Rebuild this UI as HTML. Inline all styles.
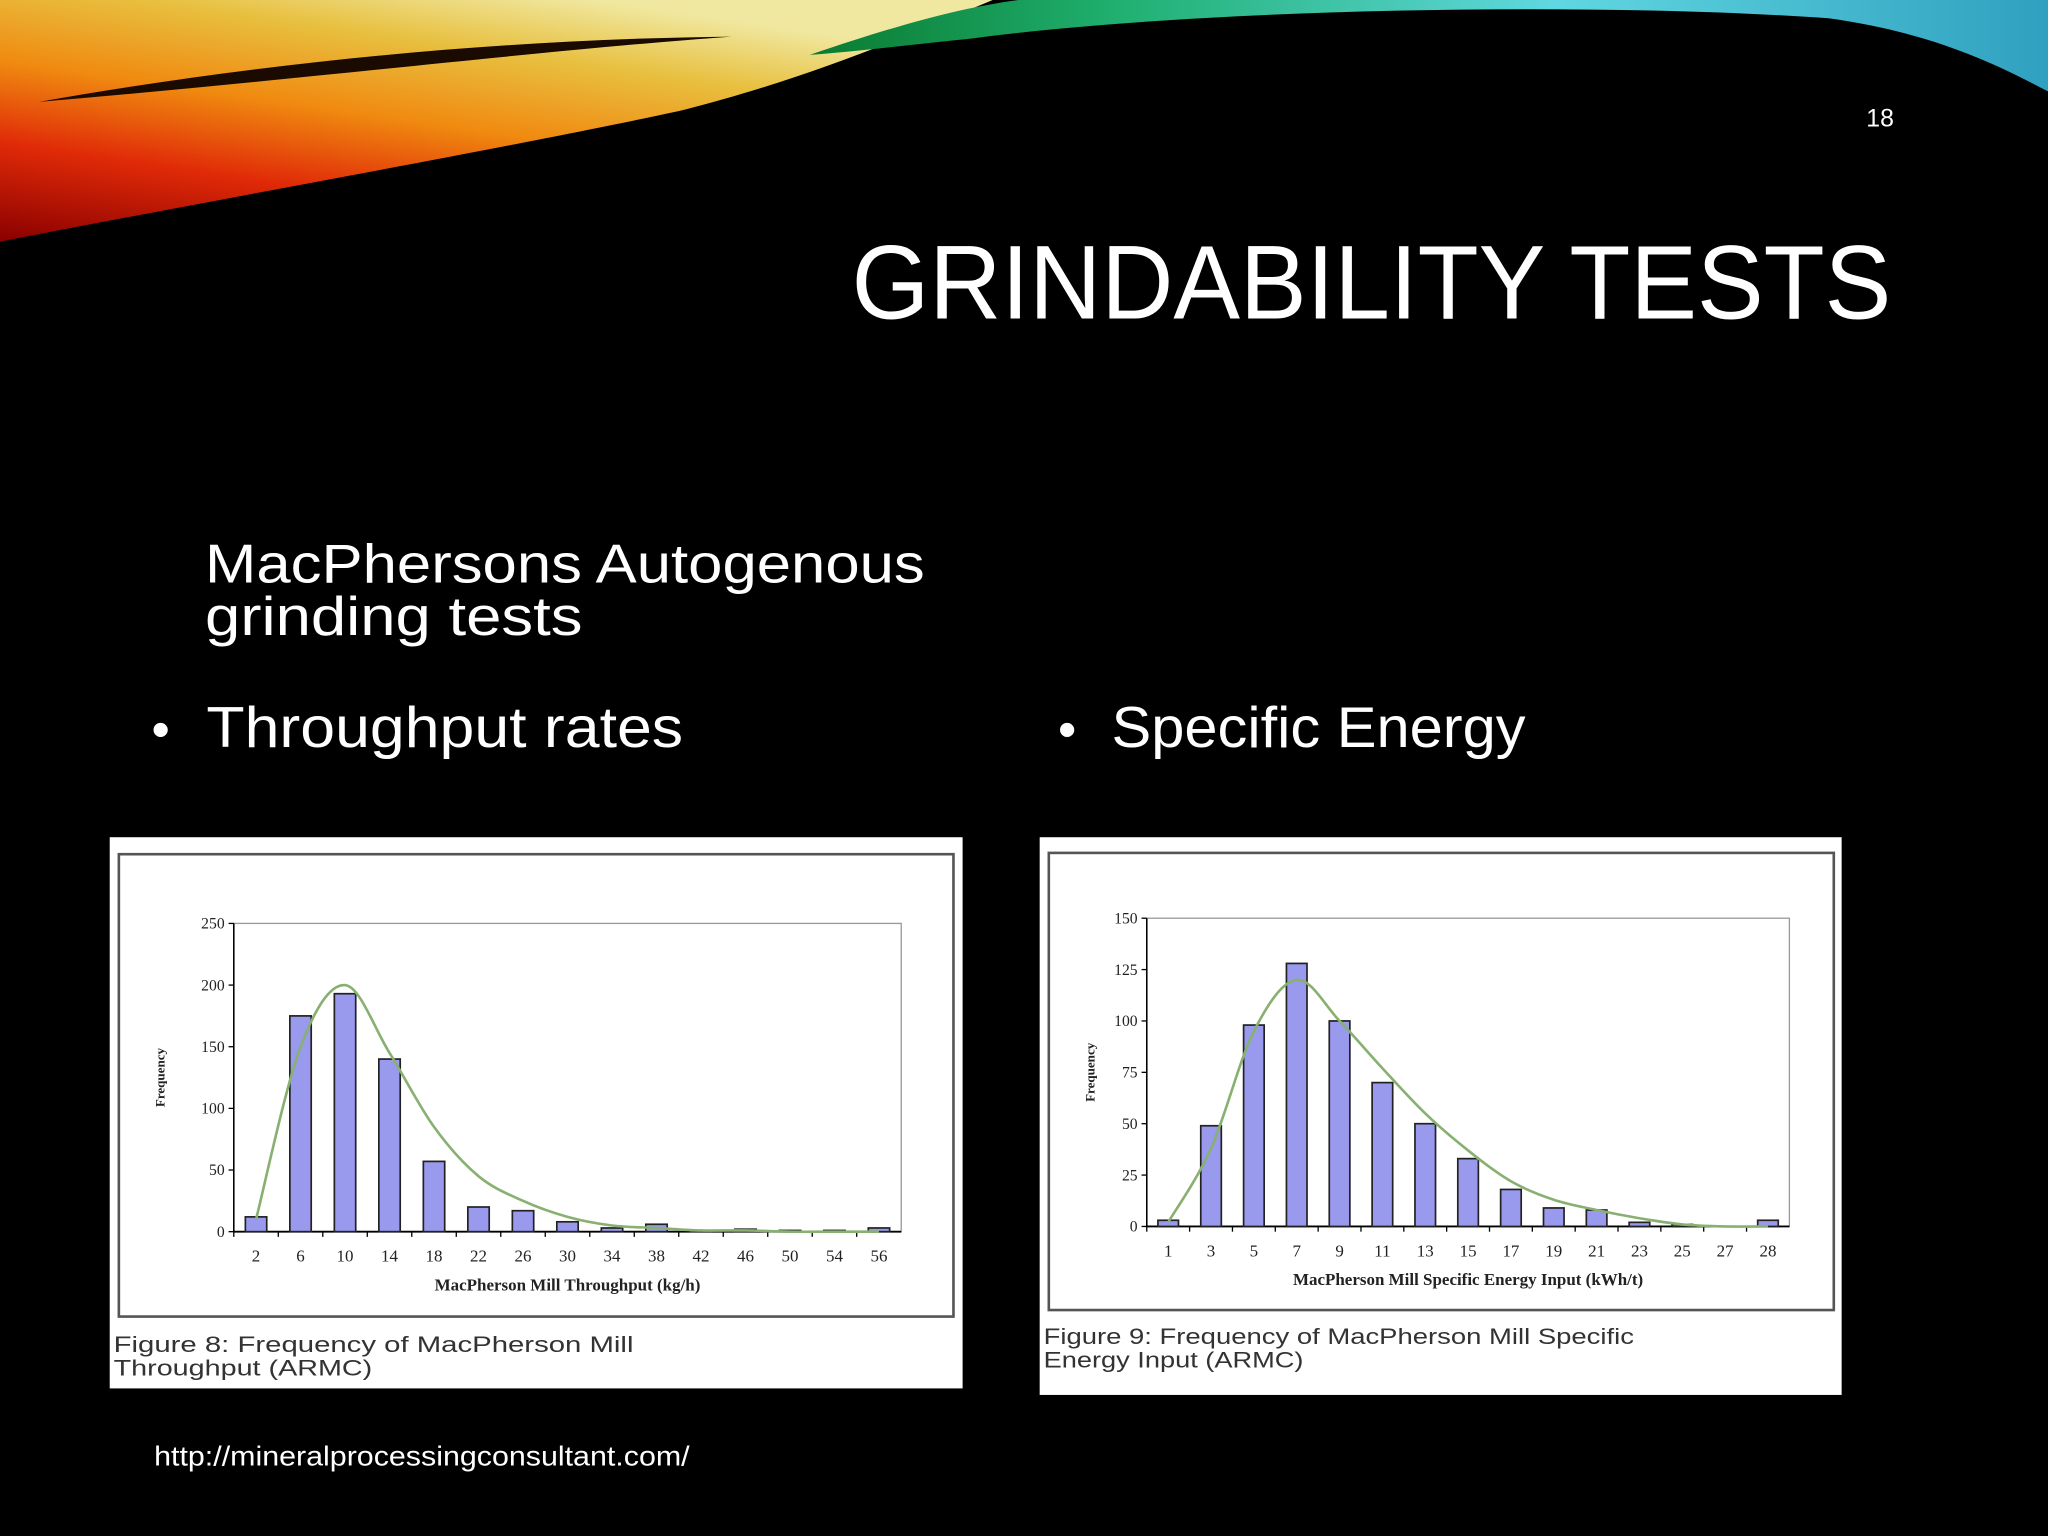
<!DOCTYPE html>
<html><head><meta charset="utf-8"><style>
html,body{margin:0;padding:0;background:#000;}
svg{display:block;}
</style></head><body>
<svg id="slide" width="2048" height="1536" viewBox="0 0 1568 1176" xmlns="http://www.w3.org/2000/svg" font-family="'Liberation Sans', sans-serif">
<defs>
<linearGradient id="warm" x1="0" y1="1" x2="0.6" y2="0">
<stop offset="0" stop-color="#8a0000"/><stop offset="0.3" stop-color="#e02a08"/><stop offset="0.55" stop-color="#f08a10"/><stop offset="0.8" stop-color="#e8c040"/><stop offset="1" stop-color="#f0e8a0"/>
</linearGradient>
<linearGradient id="cool" x1="0" y1="0" x2="1" y2="0">
<stop offset="0" stop-color="#0a7a30"/><stop offset="0.25" stop-color="#20b070"/><stop offset="0.6" stop-color="#60d8e0"/><stop offset="1" stop-color="#30a0c0"/>
</linearGradient>
</defs>
<rect width="1568" height="1176" fill="#000"/>
<path d="M0,0 L760,0 C700,25 620,60 520,85 C380,115 180,150 0,185 Z" fill="url(#warm)"/>
<path d="M30,78 C200,48 380,30 560,28 C420,38 220,62 30,78 Z" fill="#1a0a00"/>
<path d="M620,42 C690,18 740,5 780,0 L1568,0 L1568,70 C1530,50 1480,25 1400,14 C1200,0 900,8 740,30 C690,35 650,40 620,42 Z" fill="url(#cool)"/>
<text x="1450" y="97" fill="#fff" font-size="19" text-anchor="end">18</text>
<text x="652" y="244" fill="#fff" font-size="80" textLength="796" lengthAdjust="spacingAndGlyphs">GRINDABILITY TESTS</text>
<text fill="#fff" font-size="42"><tspan x="157" y="446" textLength="551" lengthAdjust="spacingAndGlyphs">MacPhersons Autogenous</tspan><tspan x="157" y="486" textLength="289" lengthAdjust="spacingAndGlyphs">grinding tests</tspan></text>
<text x="116" y="572" fill="#fff" font-size="40">•</text>
<text x="158" y="572" fill="#fff" font-size="44" textLength="365" lengthAdjust="spacingAndGlyphs">Throughput rates</text>
<text x="810" y="572" fill="#fff" font-size="40">•</text>
<text x="851" y="572" fill="#fff" font-size="44" textLength="317" lengthAdjust="spacingAndGlyphs">Specific Energy</text>
<text x="118" y="1122" fill="#fff" font-size="21" textLength="410" lengthAdjust="spacingAndGlyphs">http://mineralprocessingconsultant.com/</text>

<g id="chart1"></g>
<g id="chart2"></g>
</svg>
<script>
const NS="http://www.w3.org/2000/svg";
const tpCategories=["2","6","10","14","18","22","26","30","34","38","42","46","50","54","56"];
const tpValues=[12,175,193,140,57,20,17,8,3,6,1,2,1,1,3];
const tpCurve=[10,150,200,145,85,45,25,12,5,3,1,1,0,0,0];
const tpTicks=[0,50,100,150,200,250];
const seCategories=["1","3","5","7","9","11","13","15","17","19","21","23","25","27","28"];
const seValues=[3,49,98,128,100,70,50,33,18,9,8,2,1,0,3];
const seCurve=[2,38,95,120,100,77,55,37,22,13,8,4,1,0,0];
const seTicks=[0,25,50,75,100,125,150];

function el(tag,attrs,parent,text){const e=document.createElementNS(NS,tag);for(const k in attrs)e.setAttribute(k,attrs[k]);if(text!==undefined)e.textContent=text;parent.appendChild(e);return e;}

function drawChart(g,cfg){
  const panel=el('rect',{x:cfg.px,y:cfg.py,width:cfg.pw,height:cfg.ph,fill:'#fff'},g);
  
  
  const frame=el('rect',{x:cfg.fx,y:cfg.fy,width:cfg.fw,height:cfg.fh,fill:'none',stroke:'#555',"stroke-width":2},g);
  
  
  const x0=cfg.ax,x1=cfg.ax2,y0=cfg.ay0,yT=cfg.ayT,maxV=cfg.ticks[cfg.ticks.length-1];
  const n=cfg.cats.length;const step=(x1-x0)/n;
  const xs=i=>x0+step*(i+0.5);
  const ys=v=>y0-(v/maxV)*(y0-yT);
  const pa=el('rect',{x:x0,y:yT,width:x1-x0,height:y0-yT,fill:'none',stroke:'#999',"stroke-width":1},g);
  
  
  cfg.ticks.forEach(t=>{
    const y=ys(t);
    const tk=el('line',{x1:x0-4,x2:x0,y1:y,y2:y,stroke:'#000'},g);
    
    
    const lb=el('text',{x:x0-7,y:y+4,"font-size":12,"text-anchor":"end",fill:'#222',"font-family":"'Liberation Serif', serif"},g,String(t));
    
    
  });
  el('line',{x1:x0,x2:x0,y1:yT,y2:y0,stroke:'#000',"stroke-width":1.2},g);
  el('line',{x1:x0,x2:x1,y1:y0,y2:y0,stroke:'#000',"stroke-width":1.5},g);
  cfg.cats.forEach((c,i)=>{
    const v=cfg.vals[i];const bw=step*0.48;
    const b=el('rect',{x:xs(i)-bw/2,y:ys(v),width:bw,height:y0-ys(v),fill:'#9999ee',stroke:'#222',"stroke-width":1.3},g);
    
    
    const tx=el('line',{x1:x0+step*i,x2:x0+step*i,y1:y0,y2:y0+4,stroke:'#000'},g);
    
    
    const lb=el('text',{x:xs(i),y:y0+23,"font-size":13,"text-anchor":"middle",fill:'#222',"font-family":"'Liberation Serif', serif"},g,c);
    
    
  });
  const pts=cfg.curve.map((v,i)=>[xs(i),ys(v)]);
  let d='M'+pts[0][0]+','+pts[0][1];
  for(let i=0;i<pts.length-1;i++){
    const p0=pts[i-1]||pts[i],p1=pts[i],p2=pts[i+1],p3=pts[i+2]||p2;
    const c1=[p1[0]+(p2[0]-p0[0])/6,p1[1]+(p2[1]-p0[1])/6],c2=[p2[0]-(p3[0]-p1[0])/6,p2[1]-(p3[1]-p1[1])/6];
    d+=' C'+c1+' '+c2+' '+p2;
  }
  const cv=el('path',{d:d,fill:'none',stroke:'#88b070',"stroke-width":2},g);
  
  
  const xt=el('text',{x:(x0+x1)/2,y:y0+45,"font-size":13,"font-weight":"bold","text-anchor":"middle",fill:'#222',"font-family":"'Liberation Serif', serif"},g,cfg.xTitle);
  
  
  const yty=(y0+yT)/2;
  const yt=el('text',{x:cfg.px+42,y:yty,"font-size":10,"font-weight":"bold","text-anchor":"middle",fill:'#222',transform:'rotate(-90 '+(cfg.px+42)+' '+yty+')',"font-family":"'Liberation Serif', serif"},g,'Frequency');
  
  
  cfg.caption.forEach((line,i)=>{
    const t=el('text',{x:cfg.px+3,y:cfg.capY+i*18,"font-size":17,fill:'#333',textLength:cfg.capW[i],lengthAdjust:'spacingAndGlyphs'},g,line);
    
    
  });
}
drawChart(document.getElementById('chart1'),{px:84,py:641,pw:653,ph:422,fx:91,fy:654,fw:639,fh:354,
  ax:179,ax2:690,ay0:943,ayT:707,cats:tpCategories,vals:tpValues,curve:tpCurve,ticks:tpTicks,
  xTitle:'MacPherson Mill Throughput (kg/h)',caption:['Figure 8: Frequency of MacPherson Mill','Throughput (ARMC)'],capW:[398,198],capY:1035});
drawChart(document.getElementById('chart2'),{px:796,py:641,pw:614,ph:427,fx:803,fy:653,fw:601,fh:350,
  ax:878,ax2:1370,ay0:939,ayT:703,cats:seCategories,vals:seValues,curve:seCurve,ticks:seTicks,
  xTitle:'MacPherson Mill Specific Energy Input (kWh/t)',caption:['Figure 9: Frequency of MacPherson Mill Specific','Energy Input (ARMC)'],capW:[452,199],capY:1029});
</script>
</body></html>
